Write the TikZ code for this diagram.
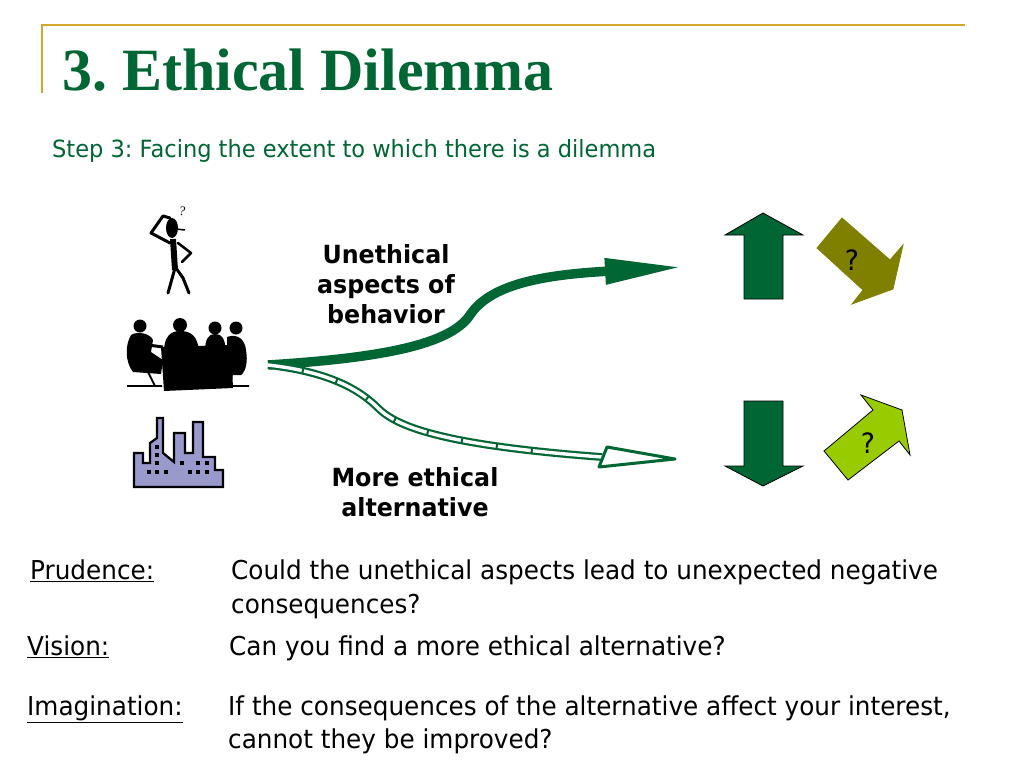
\documentclass[tikz,border=0pt]{standalone}
\usepackage{fontspec}
\setmainfont{Liberation Serif}
\newfontfamily\tahoma[FakeStretch=0.95]{DejaVu Sans}
\usepackage{xcolor}
\usepackage{tikz}
\usetikzlibrary{arrows.meta}
\usetikzlibrary{decorations.markings}
\definecolor{leafgreen}{HTML}{006633}
\definecolor{gold}{HTML}{D4A62A}
\definecolor{oliveq}{HTML}{808000}
\definecolor{limeq}{HTML}{99CC00}
\definecolor{factory}{HTML}{9999CC}
\tikzset{
  heading/.style = {font=\bfseries\fontsize{60}{62}\selectfont, text=leafgreen, anchor=base west, inner sep=0},
  subline/.style = {font=\tahoma\fontsize{23.7}{26}\selectfont, text=leafgreen, anchor=base west, inner sep=0},
  flowlabel/.style = {font=\tahoma\bfseries\fontsize{25}{30}\selectfont, align=center, inner sep=0},
  keytext/.style = {font=\tahoma\fontsize{26}{30}\selectfont, anchor=base west, inner sep=0},
  qmark/.style = {font=\tahoma\fontsize{28}{30}\selectfont, inner sep=0},
  flowup/.style = {draw=leafgreen, line width=9.5, -{Triangle[length=78, width=24]}},
  flowdown/.style = {draw=leafgreen, line width=2.2, double=white, double distance=3.4,
    postaction={decorate}, decoration={markings,
    mark=between positions 0.1 and 0.9 step 0.1 with {\fill[leafgreen] (-1,-2.4) rectangle (1,2.4);}}},
  blockarrow/.style = {draw=black, line width=0.8},
}

\begin{document}
\frenchspacing
\begin{tikzpicture}[x=1pt, y=-1pt]
\useasboundingbox (0,0) rectangle (1024,768);
\fill[white] (0,0) rectangle (1024,768);

% frame lines and heading
\draw[gold, line width=2] (42,93) -- (42,25) -- (965,25);
\node[heading] (title) at (62,90) {3. Ethical Dilemma};
\node[subline] (step) at (52,157) {Step 3: Facing the extent to which there is a dilemma};

% stick figure
\fill (172,228) ellipse (6 and 10);
\draw[line width=1.5] (176,229) -- (185,230);
\draw[line width=3, line cap=round, line join=round] (170,243) -- (151,233) -- (163,216) -- (170,218);
\draw[line width=6] (173,239) -- (175,270);
\draw[line width=2.5, line cap=round, line join=round] (178,243) -- (191,253) -- (182,262);
\draw[line width=3, line cap=round, line join=round] (175,268) -- (168,293);
\draw[line width=3, line cap=round, line join=round] (176,268) -- (183,278) -- (189,293);
\node[font=\itshape\fontsize{13}{13}\selectfont, inner sep=0] (puzzle) at (182,211) {?};

% meeting
\fill (161,347) -- (231,345) -- (233,388) -- (164,391) -- cycle;
\fill (180,325) circle (7);
\fill (164,352) .. controls (164,336) and (171,331) .. (180,331) .. controls (191,331) and (198,336) .. (199,352) -- cycle;
\fill (140,326) circle (6.5);
\fill (131,335) .. controls (125,345) and (125,362) .. (133,372) -- (161,374) -- (163,360) -- (151,352) -- (153,340) .. controls (150,333) and (137,331) .. (131,335) -- cycle;
\draw[line width=3] (148,345) -- (163,347);
\draw[line width=1.8] (148,372) -- (155,386) (127,386) -- (162,386);
\fill (215,328) circle (6.5);
\fill (205,352) .. controls (205,338) and (209,334) .. (215,334) .. controls (222,334) and (225,338) .. (226,352) -- cycle;
\fill (236,328) circle (6.5);
\fill (227,337) .. controls (238,333) and (245,340) .. (246,350) .. controls (248,362) and (246,371) .. (241,375) -- (227,375) -- cycle;
\draw[line width=1.8] (232,374) -- (230,386) (225,386) -- (249,386);

% factory
\filldraw[fill=factory, draw=black, line width=2.2] (134,453) -- (143,453) -- (143,463) -- (150,463) -- (150,443) -- (157,438)
  -- (157,418) -- (163,418) -- (163,453) -- (174,462) -- (174,433) -- (185,433) -- (185,453) -- (193,453) -- (193,422)
  -- (203,422) -- (203,457) -- (215,457) -- (215,470) -- (223,470) -- (223,487) -- (134,487) -- cycle;
\foreach \wx/\wy in {157/447, 157/455, 157/463, 149/472, 157/472, 166/472, 182/463, 190/472, 198/463, 198/472, 207/463, 207/472} {
  \fill (\wx-1.8,\wy-1.8) rectangle (\wx+1.8,\wy+1.8);
}

% the two ways
\coordinate (fork) at (268,365);
\coordinate (upend) at (683,267);
\coordinate (lowbase) at (602,457);
\coordinate (lowtip) at (675,459);
\draw[flowup] (fork) .. controls (380,358) and (450,345) .. (470,315) .. controls (490,285) and (540,275) .. (upend);
\draw[flowdown] (fork) .. controls (330,372) and (360,390) .. (378,408) .. controls (396,426) and (440,445) .. (lowbase);
\filldraw[fill=white, draw=leafgreen, line width=3, line join=round] (607,447) -- (lowtip) -- (599,467) -- cycle;

\node[flowlabel] (unethical) at (386,284) {Unethical\\aspects of\\behavior};
\node[flowlabel] (better) at (415,492) {More ethical\\alternative};

% outcomes
\filldraw[fill=leafgreen, blockarrow] (744,299) -- (744,235) -- (725,235) -- (763,213) -- (803,235) -- (783,235) -- (783,299) -- cycle;
\filldraw[fill=leafgreen, blockarrow] (744,401) -- (783,401) -- (783,466) -- (803,466) -- (763,486) -- (725,466) -- (744,466) -- cycle;
\filldraw[fill=oliveq, draw=oliveq, line width=0.8] (817,248) -- (842,218) -- (890,260) -- (903,245) -- (893,289) -- (852,304) -- (863,290) -- cycle;
\filldraw[fill=limeq, blockarrow] (824,451) -- (873,410) -- (861,395) -- (902,410) -- (910,455) -- (899,441) -- (848,480) -- cycle;
\node[qmark] (riskq) at (852,260) {?};
\node[qmark] (gainq) at (868,443) {?};

% questions
\node[keytext] (prudence) at (30,579) {\underline{Prudence:}};
\node[keytext] (prudtext) at (231,579) {Could the unethical aspects lead to unexpected negative};
\node[keytext] (prudmore) at (231,613) {consequences?};
\node[keytext] (vision) at (27,655) {\underline{Vision:}};
\node[keytext] (vistext) at (229,655) {Can you find a more ethical alternative?};
\node[keytext] (imagine) at (27,715) {\underline{Imagination:}};
\node[keytext] (imagtext) at (228,715) {If the consequences of the alternative affect your interest,};
\node[keytext] (imagmore) at (228,748) {cannot they be improved?};
\end{tikzpicture}
\end{document}
